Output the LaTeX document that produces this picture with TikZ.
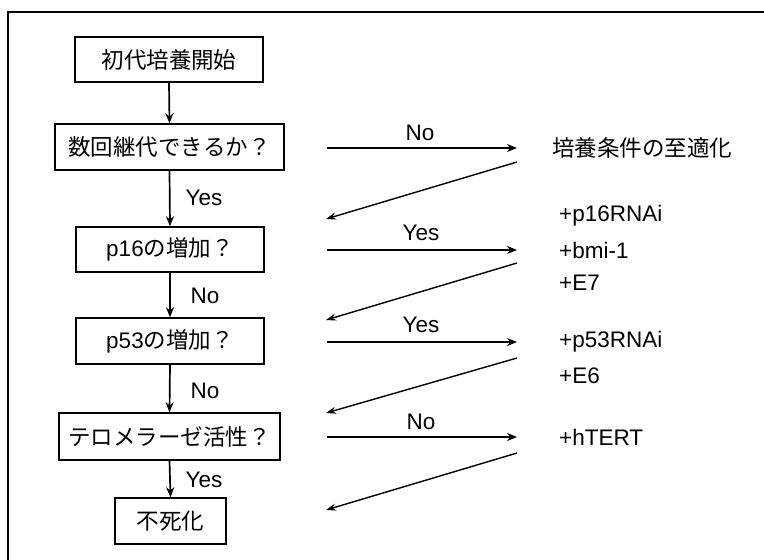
\documentclass[tikz,border=0pt]{standalone}
\usepackage{fontspec}
\setmainfont{Liberation Sans}
\newfontfamily\jp{Noto Sans CJK JP}
\usetikzlibrary{arrows.meta}
\begin{document}
\begin{tikzpicture}[x=1pt,y=-1pt,
  box/.style={draw,line width=1.5pt,inner sep=0pt,minimum height=45pt,font=\fontsize{22.5}{26}\selectfont},
  lbl/.style={inner sep=0pt,font=\fontsize{22.5}{26}\selectfont},
  rtxt/.style={inner sep=0pt,anchor=west,font=\fontsize{22.5}{26}\selectfont},
  arr/.style={line width=1.7pt,-{Stealth[length=10pt,width=8pt]}},
  ret/.style={line width=1.4pt,-{Stealth[length=10pt,width=7pt]}}]
\useasboundingbox (0,0) rectangle (764,560);
% frame
\draw[line width=1.5pt] (764,12) -- (8,12) -- (8,560);
% boxes
\node[box,minimum width=188pt] (b1) at (169,59.5) {\jp 初代培養開始};
\node[box,minimum width=229pt,minimum height=46pt] (b2) at (169.5,147) {\jp 数回継代できるか？};
\node[box,minimum width=188pt] (b3) at (170,249.5) {p16{\jp の増加？}};
\node[box,minimum width=188pt,minimum height=46pt] (b4) at (170,341) {p53{\jp の増加？}};
\node[box,minimum width=221pt,minimum height=47pt] (b5) at (169.5,436.5) {\jp テロメラーゼ活性？};
\node[box,minimum width=111pt,minimum height=46pt] (b6) at (170.5,521) {\jp 不死化};
% vertical arrows
\draw[arr] (b1.south) -- (b2.north);
\draw[arr] (b2.south) -- (b3.north);
\draw[arr] (b3.south) -- (b4.north);
\draw[arr] (b4.south) -- (b5.north);
\draw[arr] (b5.south) -- (b6.north);
\node[lbl] (y1) at (204,198) {Yes};
\node[lbl] (n1) at (205,296) {No};
\node[lbl] (n2) at (205,391) {No};
\node[lbl] (y2) at (204,480) {Yes};
% right texts
\node[rtxt] (t1) at (552,148) {\jp 培養条件の至適化};
\node[rtxt] (t2) at (559,216) {+p16RNAi};
\node[rtxt] (t3) at (559,250) {+bmi-1};
\node[rtxt] (t4) at (559,283) {+E7};
\node[rtxt] (t5) at (559,342) {+p53RNAi};
\node[rtxt] (t6) at (559,376) {+E6};
\node[rtxt] (t7) at (559,437) {+hTERT};
% horizontal arrows
\coordinate (h1s) at (327,148); \coordinate (h1e) at (517,148);
\coordinate (h2s) at (327,250); \coordinate (h2e) at (517,250);
\coordinate (h3s) at (327,342); \coordinate (h3e) at (517,342);
\coordinate (h4s) at (327,437); \coordinate (h4e) at (517,437);
\draw[arr] (h1s) -- (h1e);
\draw[arr] (h2s) -- (h2e);
\draw[arr] (h3s) -- (h3e);
\draw[arr] (h4s) -- (h4e);
\node[lbl] (l1) at (420,133) {No};
\node[lbl] (l2) at (421,233) {Yes};
\node[lbl] (l3) at (421,325) {Yes};
\node[lbl] (l4) at (421,422) {No};
% return diagonals
\coordinate (d1s) at (517,162); \coordinate (d1e) at (326,219);
\coordinate (d2s) at (517,263); \coordinate (d2e) at (326,320);
\coordinate (d3s) at (517,358); \coordinate (d3e) at (326,413);
\coordinate (d4s) at (517,453); \coordinate (d4e) at (326,510);
\draw[ret] (d1s) -- (d1e);
\draw[ret] (d2s) -- (d2e);
\draw[ret] (d3s) -- (d3e);
\draw[ret] (d4s) -- (d4e);
\end{tikzpicture}
\end{document}
